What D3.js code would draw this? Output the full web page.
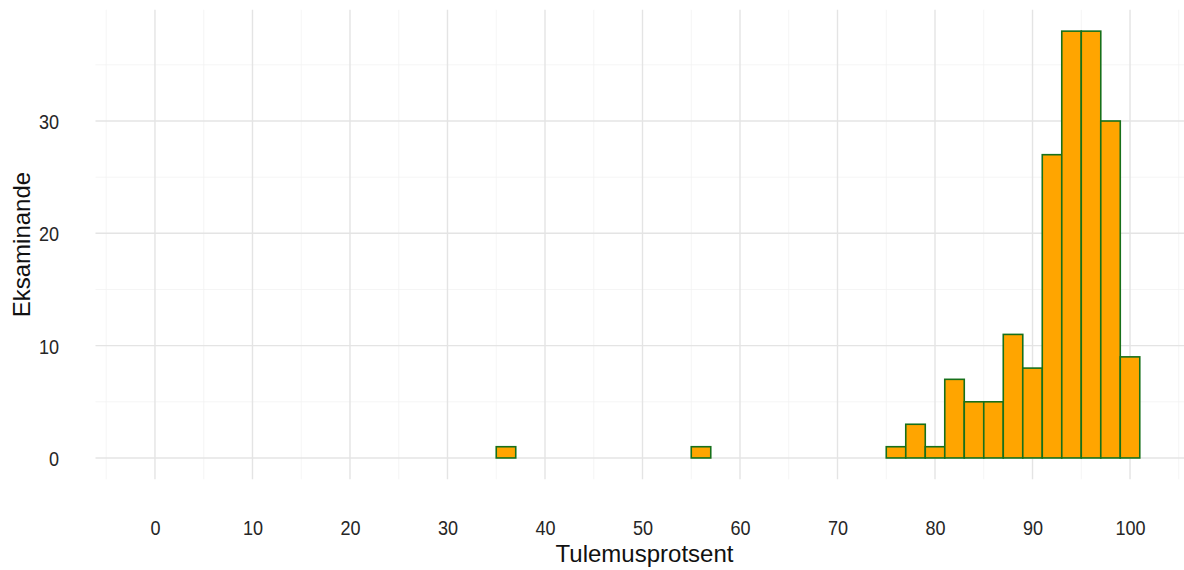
<!DOCTYPE html>
<html>
<head>
<meta charset="utf-8">
<script src="https://cdn.jsdelivr.net/npm/d3@7"></script>
<style>
  html, body { margin: 0; padding: 0; background: #ffffff; overflow: hidden; }
  svg { display: block; font-family: "Liberation Sans", Arial, sans-serif; }
</style>
</head>
<body>
<svg id="chart" width="1184" height="570"></svg>
<script>
// ---- data (histogram, binwidth 2) ----
const binCenters = [0, 2, 4, 6, 8, 10, 12, 14, 16, 18, 20, 22, 24, 26, 28, 30, 32, 34, 36, 38,
                    40, 42, 44, 46, 48, 50, 52, 54, 56, 58, 60, 62, 64, 66, 68, 70, 72, 74, 76, 78,
                    80, 82, 84, 86, 88, 90, 92, 94, 96, 98, 100];
const counts     = [0, 0, 0, 0, 0, 0, 0, 0, 0, 0, 0, 0, 0, 0, 0, 0, 0, 0, 1, 0,
                    0, 0, 0, 0, 0, 0, 0, 0, 1, 0, 0, 0, 0, 0, 0, 0, 0, 0, 1, 3,
                    1, 7, 5, 5, 11, 8, 27, 38, 38, 30, 9];
const binWidth = 2;
const xTicks = [0, 10, 20, 30, 40, 50, 60, 70, 80, 90, 100];
const xMinor = [-5, 5, 15, 25, 35, 45, 55, 65, 75, 85, 95, 105];
const yTicks = [0, 10, 20, 30];
const yMinor = [5, 15, 25, 35];
const titleText = "Eksamitulemuste jaotus protsentides (kõik eksaminandid, n = 185)";
const xTitle = "Tulemusprotsent";
const yTitle = "Eksaminande";

// ---- layout ----
const svg = d3.select("#chart");
const x = d3.scaleLinear().domain([-6.1, 106.1]).range([95.5, 1189.5]);
const y = d3.scaleLinear().domain([-1.9, 39.9]).range([479.3, 9.8]);
const [px0, px1] = x.range();
const [py1, py0] = y.range();

// grid
const grid = svg.append("g");
grid.selectAll("line.ymin").data(yMinor).join("line")
  .attr("x1", px0).attr("x2", px1)
  .attr("y1", d => y(d)).attr("y2", d => y(d))
  .attr("stroke", "#f3f3f3").attr("stroke-width", 0.8);
grid.selectAll("line.xmin").data(xMinor).join("line")
  .attr("y1", py0).attr("y2", py1)
  .attr("x1", d => x(d)).attr("x2", d => x(d))
  .attr("stroke", "#f3f3f3").attr("stroke-width", 0.8);
grid.selectAll("line.ymaj").data(yTicks).join("line")
  .attr("x1", px0).attr("x2", px1)
  .attr("y1", d => y(d)).attr("y2", d => y(d))
  .attr("stroke", "#e4e4e4").attr("stroke-width", 1.4);
grid.selectAll("line.xmaj").data(xTicks).join("line")
  .attr("y1", py0).attr("y2", py1)
  .attr("x1", d => x(d)).attr("x2", d => x(d))
  .attr("stroke", "#e4e4e4").attr("stroke-width", 1.4);

// bars
const bins = binCenters.map((c, i) => ({ c, n: counts[i] }));
svg.append("g").selectAll("rect").data(bins).join("rect")
  .attr("x", d => x(d.c - binWidth / 2))
  .attr("width", d => x(d.c + binWidth / 2) - x(d.c - binWidth / 2))
  .attr("y", d => y(d.n))
  .attr("height", d => y(0) - y(d.n))
  .attr("fill", "#FFA500")
  .attr("stroke", "#17701a")
  .attr("stroke-width", 1.6);

// axes (text only, theme_minimal)
const xAxis = d3.axisBottom(x).tickValues(xTicks).tickSize(0).tickPadding(0);
const gx = svg.append("g").attr("transform", `translate(0, 535)`).call(xAxis);
gx.select(".domain").remove();
gx.selectAll("text").attr("font-size", 21).attr("fill", "#262626")
  .attr("font-family", "Liberation Sans, Arial, sans-serif")
  .attr("dy", "0").attr("y", 0)
  .attr("transform", "scale(0.86,1)");

const yAxis = d3.axisLeft(y).tickValues(yTicks).tickSize(0).tickPadding(0);
const gy = svg.append("g").attr("transform", `translate(59, 0)`).call(yAxis);
gy.select(".domain").remove();
gy.selectAll("text").attr("font-size", 21).attr("fill", "#262626")
  .attr("font-family", "Liberation Sans, Arial, sans-serif")
  .attr("x", 0).attr("dy", "0.36em")
  .attr("transform", "scale(0.86,1)");

// axis titles
svg.append("text").attr("x", (x(-1) + x(101)) / 2 + 2).attr("y", 562)
  .attr("text-anchor", "middle").attr("font-size", 24).attr("fill", "#111")
  .text(xTitle);
svg.append("text").attr("transform", `translate(30, ${(y(-1.9) + y(39.9)) / 2}) rotate(-90)`)
  .attr("text-anchor", "middle").attr("font-size", 24).attr("fill", "#111")
  .text(yTitle);

// title (mostly cut off at the top, as in the reference)
svg.append("text").attr("x", 1028).attr("y", -5)
  .attr("text-anchor", "end").attr("font-size", 22).attr("font-weight", "bold").attr("fill", "#111")
  .text(titleText);
</script>
</body>
</html>
